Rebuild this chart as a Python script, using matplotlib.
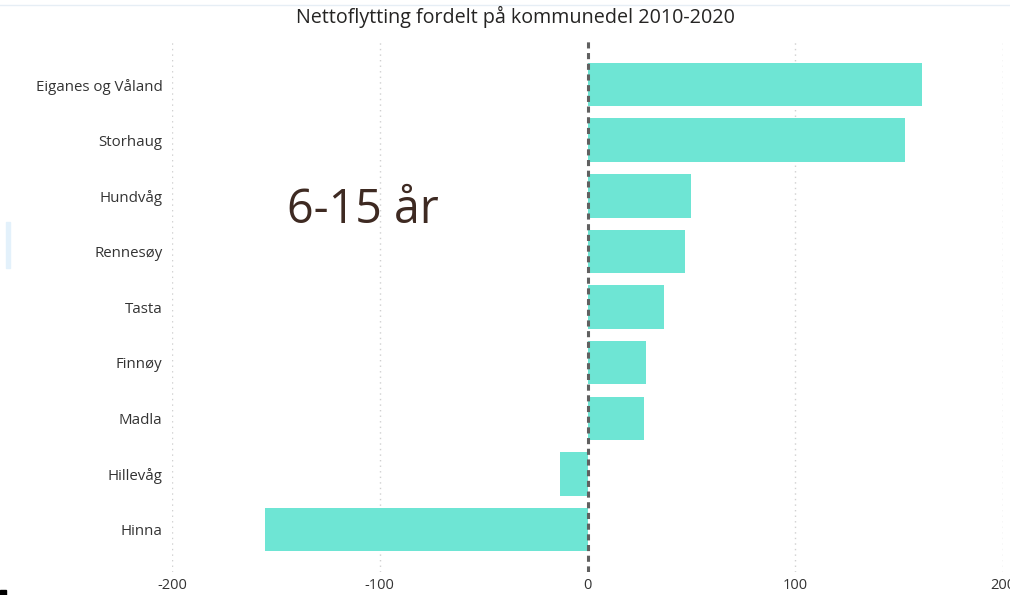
import matplotlib
matplotlib.use("Agg")
import matplotlib.pyplot as plt
from matplotlib.patches import Rectangle
from matplotlib.lines import Line2D

categories = ["Eiganes og Våland", "Storhaug", "Hundvåg", "Rennesøy", "Tasta",
              "Finnøy", "Madla", "Hillevåg", "Hinna"]
values = [161, 153, 50, 47, 37, 28, 27, -13, -155]
xticks = [-200, -100, 0, 100, 200]
title = "Nettoflytting fordelt på kommunedel 2010-2020"
annotation = "6-15 år"

plt.rcParams['font.family'] = ['Open Sans', 'DejaVu Sans']

fig = plt.figure(figsize=(10.10, 5.95), dpi=100)
ax = fig.add_axes([172/1010, 1-572/595, (1003-172)/1010, (572-40)/595])

y = list(range(len(categories)))
ax.barh(y, values, height=0.78, color="#6ee5d4", zorder=2)
ax.set_ylim(len(categories) - 1 + 0.76, -0.8)
ax.set_xlim(-200, 200)
ax.set_yticks(y)
ax.set_yticklabels(categories, fontsize=10.8, color="#333333")
ax.set_xticks(xticks)
ax.set_xticklabels([str(t) for t in xticks], fontsize=10.5, color="#333333")
ax.tick_params(length=0)
ax.tick_params(axis='x', pad=4)
ax.tick_params(axis='y', pad=7)
for s in ax.spines.values():
    s.set_visible(False)
for t in xticks:
    if t != 0:
        ax.axvline(t, color="#d0d0d0", linestyle=(0, (1, 3)), linewidth=1, zorder=1)
ax.axvline(0, color="#606060", linestyle=(0, (2, 1.5)), linewidth=2.2, zorder=3)

fig.text(515/1010, 1-17/595, title, ha="center", va="center", fontsize=14.2, color="#252423")
fig.text(287/1010, 1-210/595, annotation, ha="left", va="center", fontsize=33.5, color="#3e2a22")

# decorative artifacts from the report frame
fig.add_artist(Line2D([0, 1], [1-5/595, 1-5/595], color="#e6eef5", linewidth=1, transform=fig.transFigure))
fig.add_artist(Rectangle((6/1010, 1-268/595), 4/1010, 46/595, color="#e3f1fb", transform=fig.transFigure))
fig.add_artist(Rectangle((0, 0), 6/1010, 5/595, color="black", transform=fig.transFigure))

fig.savefig("out.png", dpi=100)
